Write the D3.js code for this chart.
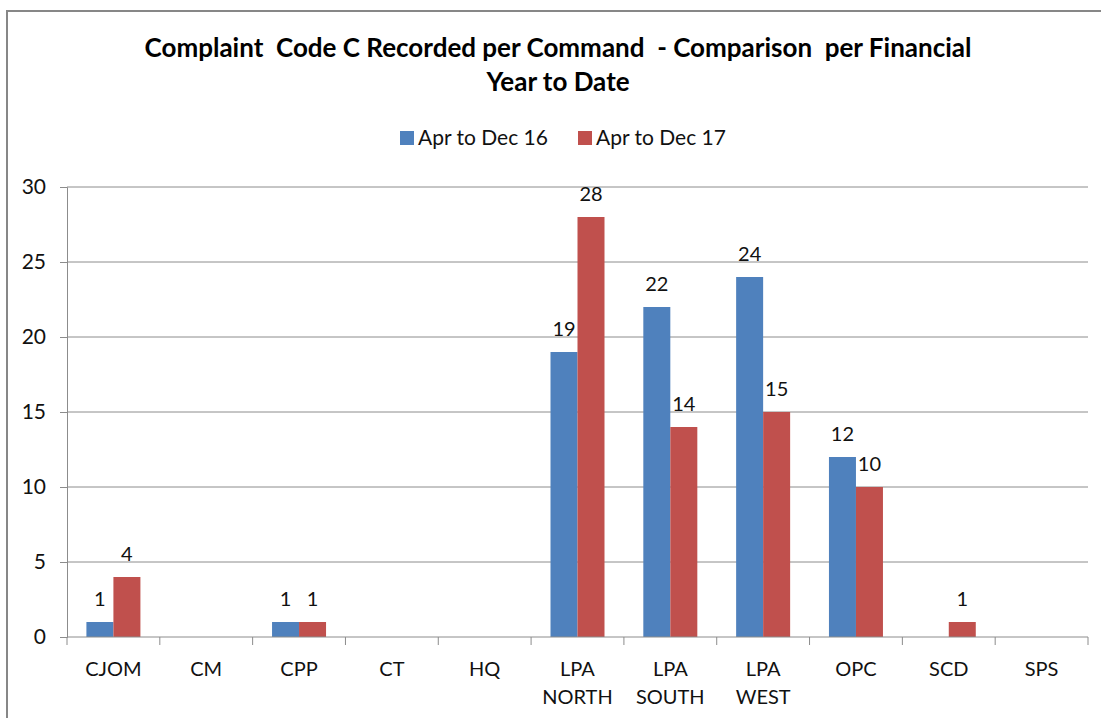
<!DOCTYPE html>
<html>
<head>
<meta charset="utf-8">
<script src="https://cdn.jsdelivr.net/npm/d3@7"></script>
<style>
  body { margin: 0; background: #fff; }
  svg { font-family: Lato, "Open Sans", sans-serif; }
</style>
</head>
<body>
<div id="chart"></div>
<script>
const commands = ["CJOM", "CM", "CPP", "CT", "HQ", "LPA NORTH", "LPA SOUTH", "LPA WEST", "OPC", "SCD", "SPS"];
const dec16 = [1, 0, 1, 0, 0, 19, 22, 24, 12, 0, 0];
const dec17 = [4, 0, 1, 0, 0, 28, 14, 15, 10, 1, 0];
const seriesNames = ["Apr to Dec 16", "Apr to Dec 17"];
const yTicks = [0, 5, 10, 15, 20, 25, 30];

const colors = ["#4F81BD", "#C0504D"];
const W = 1101, H = 718;
const margin = {top: 187, right: 13, bottom: 81, left: 67};
const width = W - margin.left - margin.right;
const height = H - margin.top - margin.bottom;

const svg = d3.select("#chart").append("svg")
    .attr("width", W)
    .attr("height", H);

// outer chart border
svg.append("rect")
    .attr("x", 7).attr("y", 11)
    .attr("width", W).attr("height", H)
    .attr("fill", "none")
    .attr("stroke", "#878787")
    .attr("stroke-width", 2);

// title
const title = svg.append("text")
    .attr("text-anchor", "middle")
    .attr("font-weight", "bold")
    .attr("font-size", 26)
    .style("white-space", "pre")
    .attr("fill", "#000");
title.append("tspan").attr("x", 558).attr("y", 57).text("Complaint  Code C Recorded per Command  - Comparison  per Financial");
title.append("tspan").attr("x", 558).attr("y", 91).text("Year to Date");

// legend
const legend = svg.append("g");
const legX = [400, 578];
seriesNames.forEach((name, i) => {
    legend.append("rect")
        .attr("x", legX[i]).attr("y", 131)
        .attr("width", 14).attr("height", 14)
        .attr("fill", colors[i]);
    legend.append("text")
        .attr("x", legX[i] + 18).attr("y", 145)
        .attr("font-size", 21)
        .attr("fill", "#111")
        .text(name);
});

const g = svg.append("g")
    .attr("transform", "translate(" + margin.left + "," + margin.top + ")");

const x = d3.scaleBand()
    .domain(commands)
    .range([0, width]);

const y = d3.scaleLinear()
    .domain([0, 30])
    .range([height, 0]);

const barW = 27;

// gridlines
g.selectAll(".grid")
    .data(yTicks.filter(d => d > 0))
    .enter().append("line")
    .attr("x1", 0).attr("x2", width)
    .attr("y1", d => y(d)).attr("y2", d => y(d))
    .attr("stroke", "#8c8c8c")
    .attr("stroke-width", 1);

// y axis
const yAxis = g.append("g")
    .call(d3.axisLeft(y).tickValues(yTicks).tickSize(7).tickPadding(14));
yAxis.select(".domain").attr("stroke", "#8c8c8c");
yAxis.selectAll(".tick line").attr("stroke", "#8c8c8c");
yAxis.selectAll(".tick text")
    .attr("font-size", 21)
    .attr("font-family", "Lato, sans-serif")
    .attr("fill", "#111");

// bars
const data = commands.map((c, i) => ({c: c, vals: [dec16[i], dec17[i]]}));
const groups = g.selectAll(".grp")
    .data(data)
    .enter().append("g")
    .attr("transform", d => "translate(" + (x(d.c) + x.bandwidth() / 2 - barW) + ",0)");

groups.selectAll("rect")
    .data(d => d.vals)
    .enter().append("rect")
    .attr("x", (d, i) => i * barW)
    .attr("y", d => y(d))
    .attr("width", barW)
    .attr("height", d => height - y(d))
    .attr("fill", (d, i) => colors[i]);

groups.selectAll(".lbl")
    .data(d => d.vals)
    .enter().append("text")
    .attr("x", (d, i) => i * barW + barW / 2)
    .attr("y", d => y(d) - 16)
    .attr("text-anchor", "middle")
    .attr("font-size", 20)
    .attr("fill", "#111")
    .text(d => d > 0 ? d : "");

// x axis
g.append("line")
    .attr("x1", 0).attr("x2", width)
    .attr("y1", height).attr("y2", height)
    .attr("stroke", "#8c8c8c");
g.selectAll(".xtick")
    .data(d3.range(commands.length + 1))
    .enter().append("line")
    .attr("x1", d => d * x.step()).attr("x2", d => d * x.step())
    .attr("y1", height).attr("y2", height + 8)
    .attr("stroke", "#8c8c8c");

const xl = g.selectAll(".xlbl")
    .data(commands)
    .enter().append("text")
    .attr("text-anchor", "middle")
    .attr("font-size", 20)
    .attr("fill", "#111");
xl.each(function(d) {
    const words = d.split(" ");
    const t = d3.select(this);
    words.forEach((w, k) => {
        t.append("tspan")
            .attr("x", x(d) + x.bandwidth() / 2)
            .attr("y", height + 39 + k * 28)
            .text(w);
    });
});
</script>
</body>
</html>
